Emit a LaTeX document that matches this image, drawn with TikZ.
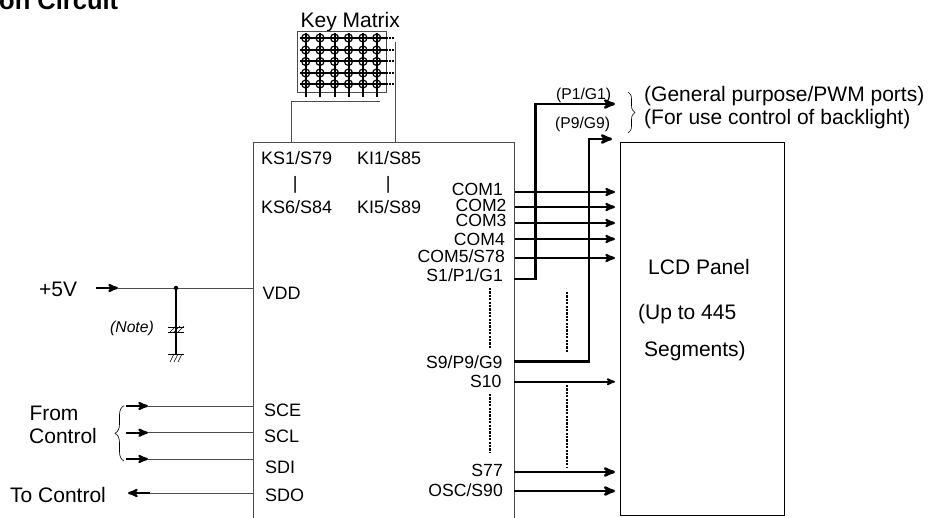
\documentclass[tikz,border=0pt]{standalone}
\usepackage{fontspec}
\setmainfont{Liberation Sans}
\usepackage{tikz}
\usetikzlibrary{arrows,positioning,decorations.pathreplacing}

\begin{document}
\begin{tikzpicture}[x=1pt,y=-1pt,>=stealth',line cap=butt,font=\fontsize{18}{18}\selectfont]
	\tikzstyle{pinlabel}=[inner sep=0pt,anchor=base west]
	\tikzstyle{comlabel}=[inner sep=0pt,anchor=base east,font=\fontsize{17.6}{18}\selectfont]
	\tikzstyle{biglabel}=[inner sep=0pt,anchor=base west,font=\fontsize{21}{21}\selectfont]
	\tikzstyle{smalltext}=[inner sep=0pt,anchor=base west,font=\fontsize{15.7}{16}\selectfont]
	\tikzstyle{thinwire}=[draw=black!70,line width=0.8pt]
	\tikzstyle{thickwire}=[draw=black,line width=2.6pt]
	\tikzstyle{midwire}=[draw=black,line width=2.2pt]
	\tikzstyle{keywire}=[draw=black,line width=2pt]
	\tikzstyle{dotwire}=[draw=black,line width=2.6pt,dash pattern=on 2.2pt off 1.2pt]
	\tikzstyle{hatch}=[draw=black,line width=0.6pt]

	\useasboundingbox (0,0) rectangle (930,518);

	% title, cut by the page edge
	\node[inner sep=0pt,anchor=base west,font=\bfseries\fontsize{25.5}{26}\selectfont] (title) at (-1,10) {on Circuit};

	% chip and panel outlines
	\coordinate (icbl) at (253,518);
	\coordinate (ictl) at (253,142);
	\coordinate (ictr) at (514,142);
	\coordinate (icbr) at (514,518);
	\draw[thinwire] (icbl) -- (ictl) -- (ictr) -- (icbr);
	\node[draw=black,line width=0.8pt,minimum width=164pt,minimum height=373pt,anchor=north west,inner sep=0pt] (lcd) at (619.5,142) {};

	% key matrix
	\node[biglabel] (keytitle) at (300.5,28) {Key Matrix};
	\node[draw=black!70,line width=0.7pt,minimum width=89pt,minimum height=61pt,anchor=north west,inner sep=0pt] (keybox) at (297,31) {};
	\foreach \row/\ypos in {1/38,2/50,3/61.5,4/73,5/84}{
		\coordinate (rowa\row) at (300,\ypos);
		\coordinate (rowb\row) at (386,\ypos);
		\coordinate (rowc\row) at (394.5,\ypos);
		\draw[keywire] (rowa\row) -- (rowb\row);
		\draw[keywire,dash pattern=on 2pt off 1.2pt] (rowb\row) -- (rowc\row);
	}
	\foreach \col/\xpos in {1/305.7,2/320,3/334.5,4/348.5,5/363,6/376.7}{
		\coordinate (cola\col) at (\xpos,33);
		\coordinate (colb\col) at (\xpos,97);
		\draw[keywire] (cola\col) -- (colb\col);
		\foreach \ypos in {38,50,61.5,73,84}
			\node[circle,draw=black,line width=1.2pt,minimum size=8pt,inner sep=0pt] (key\col-\ypos) at (\xpos,\ypos) {};
	}
	\coordinate (kswire) at (380,101.5);
	\coordinate (kscorner) at (291,101.5);
	\coordinate (ksend) at (291,142);
	\coordinate (kitop) at (395,42);
	\coordinate (kiend) at (395,142);
	\draw[thinwire] (kswire) -- (kscorner) -- (ksend);
	\draw[thinwire] (kitop) -- (kiend);

	% key pins
	\node[pinlabel] (ks1) at (261,165) {KS1/S79};
	\node[pinlabel] (ki1) at (357,165) {KI1/S85};
	\node[pinlabel] (ksbar) at (292.7,190) {|};
	\node[pinlabel] (kibar) at (385.7,190) {|};
	\node[pinlabel] (ks6) at (261,214) {KS6/S84};
	\node[pinlabel] (ki5) at (357,214) {KI5/S89};

	% supply
	\node[pinlabel] (vdd) at (262.5,300) {VDD};
	\node[biglabel] (fivev) at (39,296.7) {+5V};
	\coordinate (vin) at (96,288);
	\coordinate (varrow) at (118,288);
	\coordinate (vpin) at (253,288);
	\coordinate (vjoint) at (176,288);
	\coordinate (vgnd) at (176,354);
	\draw[thinwire] (varrow) -- (vpin);
	\draw[->,midwire] (vin) -- (varrow);
	\fill (vjoint) circle (2.2pt);
	\draw[midwire] (vjoint) -- (vgnd);
	\node[smalltext,font=\itshape\fontsize{15.7}{16}\selectfont] (note) at (110,332.7) {(Note)};
	\foreach \ypos in {327,332}{
		\coordinate (capa\ypos) at (168,\ypos);
		\coordinate (capb\ypos) at (184,\ypos);
		\draw[draw=black,line width=0.8pt] (capa\ypos) -- (capb\ypos);
	}
	\foreach \xpos in {170,174,178}{
		\draw[hatch] (\xpos,332) -- (\xpos+6,326);
		\draw[hatch] (\xpos,362) -- (\xpos+4,354);
	}
	\coordinate (gnda) at (168,354);
	\coordinate (gndb) at (184,354);
	\draw[draw=black,line width=0.8pt] (gnda) -- (gndb);

	% serial lines
	\node[pinlabel] (sce) at (264,417) {SCE};
	\node[pinlabel] (scl) at (264,442.7) {SCL};
	\node[pinlabel] (sdi) at (265,474) {SDI};
	\node[pinlabel] (sdo) at (265,502) {SDO};
	\node[biglabel] (from) at (29.3,421) {From};
	\node[biglabel] (control) at (29,444) {Control};
	\node[biglabel] (tocontrol) at (10,503) {To Control};
	\foreach \nm/\ypos in {sce/406,scl/432.7,sdi/459}{
		\coordinate (\nm in) at (126,\ypos);
		\coordinate (\nm mid) at (148,\ypos);
		\coordinate (\nm pin) at (253,\ypos);
		\draw[thinwire] (\nm mid) -- (\nm pin);
		\draw[->,midwire] (\nm in) -- (\nm mid);
	}
	\coordinate (sdopin) at (253,493);
	\coordinate (sdomid) at (150,493);
	\coordinate (sdoend) at (128,493);
	\draw[thinwire] (sdopin) -- (sdomid);
	\draw[->,midwire] (sdomid) -- (sdoend);
	\coordinate (bracea) at (124,461);
	\coordinate (braceb) at (124,405.7);
	\draw[hatch,decorate,decoration={brace,amplitude=9pt}] (bracea) -- (braceb);

	% common lines
	\foreach \nm/\txt/\ypos/\lab/\rgt in {com1/COM1/192/196/503,com2/COM2/207/211.7/506.7,com3/COM3/223/227/506.7,com4/COM4/239/245.7/505,com5/COM5\slash S78/258/263/505}{
		\node[comlabel] (\nm) at (\rgt,\lab) {\txt};
		\coordinate (\nm in) at (515,\ypos);
		\coordinate (\nm out) at (615,\ypos);
		\draw[->,midwire] (\nm in) -- (\nm out);
	}

	% segment lines
	\node[comlabel] (s1) at (503,281.7) {S1/P1/G1};
	\node[comlabel] (s9) at (502.7,369) {S9/P9/G9};
	\node[comlabel] (s10) at (501.7,388) {S10};
	\node[comlabel] (s77) at (503,477) {S77};
	\node[comlabel] (osc) at (503,496.7) {OSC/S90};
	\coordinate (s1pin) at (514,279);
	\coordinate (s1turn) at (535.7,279);
	\coordinate (p1turn) at (535.7,104);
	\coordinate (p1out) at (615,104);
	\draw[->,thickwire] (s1pin) -- (s1turn) -- (p1turn) -- (p1out);
	\coordinate (s9pin) at (514,361.7);
	\coordinate (s9turn) at (589,361.7);
	\coordinate (p9turn) at (589,139);
	\coordinate (p9out) at (612,139);
	\draw[->,thickwire] (s9pin) -- (s9turn) -- (p9turn) -- (p9out);
	\coordinate (s10pin) at (514,381.7);
	\coordinate (s10out) at (615,381.7);
	\draw[->,draw=black,line width=1.7pt] (s10pin) -- (s10out);
	\coordinate (s77pin) at (514,472);
	\coordinate (s77out) at (615,472);
	\draw[->,thickwire] (s77pin) -- (s77out);
	\coordinate (oscpin) at (514,491);
	\coordinate (oscout) at (615,491);
	\draw[->,thickwire] (oscpin) -- (oscout);

	% rows of dots between pins
	\foreach \nm/\xpos/\ya/\yb in {dota/490/288/348,dotb/490/394/453,dotc/567/292/352,dotd/567/385/467}{
		\coordinate (\nm top) at (\xpos,\ya);
		\coordinate (\nm bot) at (\xpos,\yb);
		\draw[dotwire] (\nm top) -- (\nm bot);
	}

	% port labels
	\node[smalltext] (p1) at (556,99.3) {(P1/G1)};
	\node[smalltext] (p9) at (555,129) {(P9/G9)};
	\coordinate (bracec) at (628,92);
	\coordinate (braced) at (628,133);
	\draw[hatch,decorate,decoration={brace,amplitude=7pt}] (bracec) -- (braced);
	\node[biglabel] (general) at (644,101.7) {(General purpose/PWM ports)};
	\node[biglabel] (backlight) at (644,125) {(For use control of backlight)};

	% panel text
	\node[biglabel] (panel) at (648,275) {LCD Panel};
	\node[biglabel] (upto) at (638,320) {(Up to 445};
	\node[biglabel] (segs) at (644,356.7) {Segments)};
\end{tikzpicture}
\end{document}
